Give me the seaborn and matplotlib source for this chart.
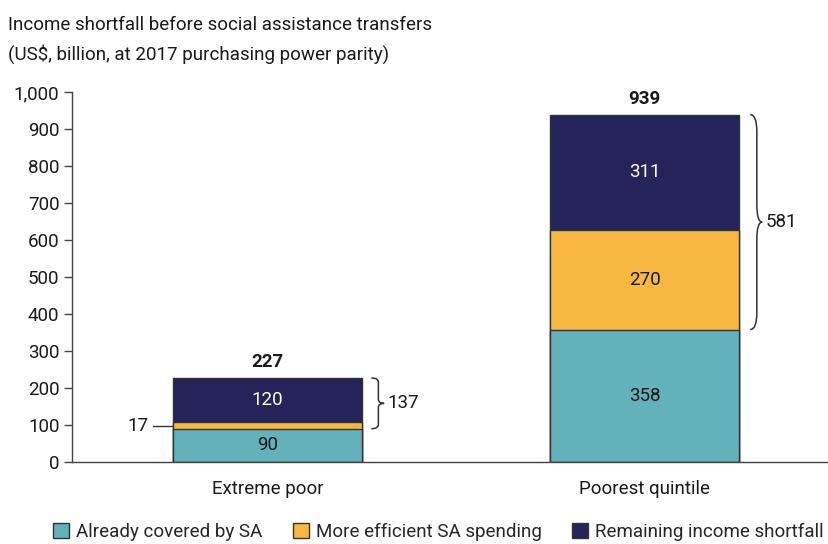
import matplotlib
matplotlib.use("Agg")
import matplotlib.pyplot as plt
from matplotlib.path import Path
from matplotlib.patches import PathPatch, Patch
from matplotlib.ticker import FuncFormatter
import seaborn as sns
import pandas as pd
import numpy as np

sns.set_theme(style="white")
plt.rcParams["font.family"] = ["Roboto", "DejaVu Sans"]

categories = ["Extreme poor", "Poorest quintile"]
covered = [90, 358]
efficient = [17, 270]
remaining = [120, 311]
totals = [227, 939]
series_names = ["Already covered by SA", "More efficient SA spending", "Remaining income shortfall"]
colors = ["#63B1BA", "#F7B842", "#24235A"]
yticks = [0, 100, 200, 300, 400, 500, 600, 700, 800, 900, 1000]

FS = 13.5
TXT = "#1a1a1a"

fig = plt.figure(figsize=(8.29, 5.44), dpi=100)
ax = fig.add_axes([72 / 829, 82 / 544, 757 / 829, 370 / 544])

df = pd.DataFrame({
    "cat": categories,
    "c1": covered,
    "c2": np.add(covered, efficient),
    "c3": np.add(np.add(covered, efficient), remaining),
})

# Stacked bars drawn as cumulative layers, tallest first
for col, color in zip(["c3", "c2", "c1"], colors[::-1]):
    sns.barplot(data=df, x="cat", y=col, color=color, width=0.5, ax=ax,
                edgecolor="#333333", linewidth=1.0, saturation=1)

ax.set_xlim(-0.519, 1.489)
ax.set_ylim(0, 1000)
ax.set_yticks(yticks)
ax.yaxis.set_major_formatter(FuncFormatter(lambda v, p: f"{int(v):,}"))
ax.set_xlabel("")
ax.set_ylabel("")
ax.set_xticks([0, 1])
ax.set_xticklabels(categories)
ax.set_xticks([0.5], minor=True)
ax.tick_params(axis="x", which="major", length=0, pad=13, labelsize=FS, labelcolor=TXT)
ax.tick_params(axis="x", which="minor", length=6, width=1, color="#444444", direction="out")
ax.tick_params(axis="y", length=6, width=1, color="#444444", labelsize=FS, pad=3,
               labelcolor=TXT, left=True)
for s in ["top", "right"]:
    ax.spines[s].set_visible(False)
for s in ["left", "bottom"]:
    ax.spines[s].set_color("#444444")
    ax.spines[s].set_linewidth(1.0)

# Segment value labels
for i in range(len(categories)):
    b = 0
    for vals, color in zip([covered, efficient, remaining], colors):
        v = vals[i]
        if v >= 50:
            tc = "white" if color == colors[2] else TXT
            ax.text(i, b + v / 2, f"{v}", ha="center", va="center", fontsize=FS, color=tc)
        b += v
    ax.text(i, totals[i] + 18, f"{totals[i]}", ha="center", va="bottom",
            fontsize=FS, fontweight="bold", color=TXT)

# Small segment label with leader line
mid = covered[0] + efficient[0] / 2
ax.plot([-0.305, -0.252], [mid, mid], color="#333333", lw=1.0, clip_on=False)
ax.text(-0.315, mid, f"{efficient[0]}", ha="right", va="center", fontsize=FS, color=TXT)


def brace(ax, x, y0, y1, w, label):
    """Right-facing curly brace spanning y0..y1, starting at x, tip at x + w."""
    ym = (y0 + y1) / 2
    r = w * 0.55
    c = (y1 - y0) * 0.08
    pts = [
        (x, y1),
        (x + r, y1), (x + r, y1 - c),
        (x + r, ym + c),
        (x + r, ym), (x + w, ym),
        (x + w, ym), (x + r, ym), (x + r, ym - c),
        (x + r, y0 + c),
        (x + r, y0), (x, y0),
    ]
    codes = [Path.MOVETO,
             Path.CURVE3, Path.CURVE3,
             Path.LINETO,
             Path.CURVE3, Path.CURVE3,
             Path.MOVETO, Path.CURVE3, Path.CURVE3,
             Path.LINETO,
             Path.CURVE3, Path.CURVE3]
    ax.add_patch(PathPatch(Path(pts, codes), fill=False, edgecolor="#333333", lw=1.1,
                           clip_on=False))
    ax.text(x + w + 0.01, ym, label, ha="left", va="center", fontsize=FS, color=TXT)


brace(ax, 0.275, covered[0], totals[0], 0.034, f"{efficient[0] + remaining[0]}")
brace(ax, 1.28, covered[1], totals[1], 0.032, f"{efficient[1] + remaining[1]}")

fig.text(8 / 829, 1 - 25 / 544, "Income shortfall before social assistance transfers",
         ha="left", va="center", fontsize=FS, color=TXT)
fig.text(8 / 829, 1 - 54 / 544, "(US$, billion, at 2017 purchasing power parity)",
         ha="left", va="center", fontsize=FS, color=TXT)

handles = [Patch(facecolor=c, edgecolor="#333333", linewidth=1.0) for c in colors]
fig.legend(handles, series_names, loc="center", bbox_to_anchor=(0.529, 1 - 532 / 544), ncol=3,
           frameon=False, fontsize=FS, handlelength=0.85, handleheight=0.85,
           handletextpad=0.4, columnspacing=1.6, borderaxespad=0)

fig.savefig("out.png", dpi=100)
